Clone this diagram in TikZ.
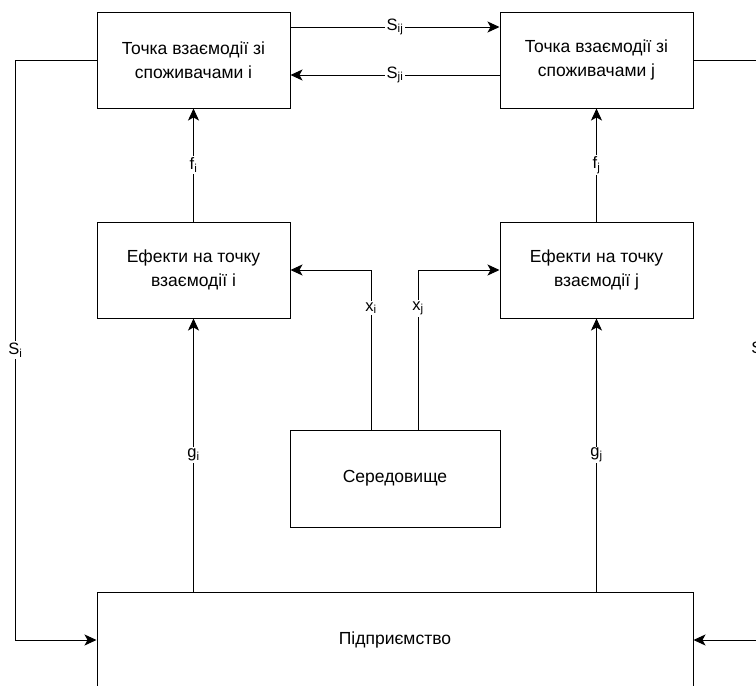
\documentclass[tikz,border=0pt]{standalone}
\usepackage{fontspec}
\setmainfont{Liberation Sans}
\usetikzlibrary{arrows.meta}

\tikzset{
  blok/.style={draw, line width=1pt, minimum width=193pt, minimum height=96pt,
    align=center, inner sep=0pt, font=\fontsize{17.5}{24}\selectfont},
  lbl/.style={fill=white, inner sep=1.5pt, font=\fontsize{16.5}{18}\selectfont},
  wire/.style={line width=1pt},
  con/.style={wire, -{Stealth[length=12pt,width=11pt,inset=3pt]}}
}

\begin{document}
\begin{tikzpicture}[x=1pt,y=-1pt]
      \useasboundingbox (0,0) rectangle (756,686);
      \clip (0,0) rectangle (756,686);

      \node[blok] (toi) at (193.5,60) {Точка взаємодії зі\\споживачами і};
      \node[blok] (toj) at (596.5,60) {Точка взаємодії зі\\споживачами j};
      \node[blok] (efi) at (193.5,270) {Ефекти на точку\\взаємодії і};
      \node[blok] (efj) at (596.5,270) {Ефекти на точку\\взаємодії j};
      \node[blok, minimum width=210pt, minimum height=97pt] (ser) at (395,478.5) {Середовище};
      \node[blok, minimum width=596pt] (pid) at (395,640) {Підприємство};

      \draw[con] ([yshift=33pt]toi.east) -- ([yshift=33pt]toj.west) node[lbl, midway] {S\textsubscript{ij}};
      \draw[con] ([yshift=-15pt]toj.west) -- ([yshift=-15pt]toi.east) node[lbl, midway] {S\textsubscript{ji}};

      \draw[con] (efi) -- (toi) node[lbl, midway] {f\textsubscript{i}};
      \draw[con] (efj) -- (toj) node[lbl, midway] {f\textsubscript{j}};

      \draw[con] (pid.north -| efi) -- (efi) node[lbl, midway] {g\textsubscript{i}};
      \draw[con] (pid.north -| efj) -- (efj) node[lbl, midway] {g\textsubscript{j}};

      \draw[con] ([xshift=-24pt]ser.north) |- (efi.east) node[lbl, pos=0.38] {x\textsubscript{i}};
      \draw[con] ([xshift=23pt]ser.north) |- (efj.west) node[lbl, pos=0.38] {x\textsubscript{j}};

      \draw[con] (toi.west) -- ++(-81,0) |- (pid.west) node[lbl, pos=0.25] {S\textsubscript{i}};
      \draw[con] (toj.east) -- ++(65,0) |- (pid.east) node[lbl, pos=0.25] {S\textsubscript{j}};
\end{tikzpicture}
\end{document}
